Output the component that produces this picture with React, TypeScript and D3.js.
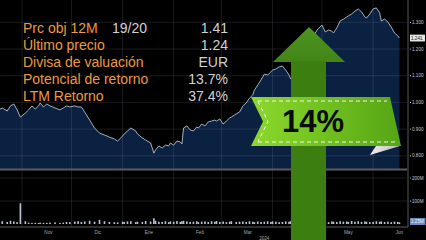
import React from "react";
import * as d3 from "d3";

// ---- data ----
const dates = [
  "2023-10-18","2023-10-20","2023-10-23","2023-10-25","2023-10-27","2023-10-29","2023-10-31","2023-11-03","2023-11-05","2023-11-07",
  "2023-11-09","2023-11-11","2023-11-12","2023-11-14","2023-11-16","2023-11-18","2023-11-21","2023-11-24","2023-11-26","2023-11-28",
  "2023-11-30","2023-12-03","2023-12-05","2023-12-07","2023-12-09","2023-12-12","2023-12-15","2023-12-18","2023-12-21","2023-12-24",
  "2023-12-27","2023-12-29","2024-01-01","2024-01-02","2024-01-04","2024-01-06","2024-01-09","2024-01-10","2024-01-13","2024-01-15",
  "2024-01-18","2024-01-20","2024-01-21","2024-01-23","2024-01-25","2024-01-27","2024-01-29","2024-01-30","2024-02-01","2024-02-03",
  "2024-02-05","2024-02-06","2024-02-07","2024-02-09","2024-02-11","2024-02-13","2024-02-15","2024-02-16","2024-02-18","2024-02-20",
  "2024-02-22","2024-02-24","2024-02-26","2024-02-27","2024-02-29","2024-03-02","2024-03-04","2024-03-06","2024-03-07","2024-03-10",
  "2024-03-12","2024-03-14","2024-03-16","2024-03-18","2024-03-20","2024-03-21","2024-03-23","2024-03-25","2024-03-27","2024-03-29",
  "2024-03-31","2024-04-01","2024-04-03","2024-04-05","2024-04-07","2024-04-09","2024-04-11","2024-04-12","2024-04-16","2024-04-19",
  "2024-04-22","2024-04-25","2024-04-28","2024-05-01","2024-05-03","2024-05-05","2024-05-07","2024-05-08","2024-05-10","2024-05-12",
  "2024-05-14","2024-05-16","2024-05-17","2024-05-19","2024-05-21","2024-05-23","2024-05-25","2024-05-27","2024-05-28","2024-05-30",
  "2024-06-01","2024-06-03","2024-06-05","2024-06-06","2024-06-08","2024-06-10","2024-06-12","2024-06-14","2024-06-16","2024-06-17",
];
const prices = [
  0.972,0.979,0.968,0.987,0.994,0.972,0.945,0.960,0.972,0.987,
  0.975,0.987,0.998,0.983,0.994,0.987,0.979,0.972,0.979,0.987,
  0.983,0.987,0.983,0.983,0.964,0.934,0.904,0.885,0.878,0.870,
  0.863,0.855,0.874,0.882,0.893,0.904,0.893,0.882,0.867,0.859,
  0.848,0.810,0.822,0.837,0.829,0.840,0.837,0.848,0.840,0.855,
  0.852,0.844,0.904,0.912,0.897,0.893,0.908,0.904,0.919,0.912,
  0.927,0.930,0.934,0.930,0.938,0.919,0.930,0.942,0.945,0.957,
  0.964,0.987,0.998,1.016,1.028,1.046,1.065,1.084,1.106,1.103,
  1.114,1.121,1.125,1.133,1.136,1.121,1.103,1.088,1.121,1.166,
  1.204,1.241,1.271,1.290,1.264,1.271,1.267,1.260,1.279,1.305,
  1.312,1.320,1.324,1.331,1.342,1.350,1.339,1.320,1.316,1.331,
  1.350,1.354,1.335,1.305,1.312,1.301,1.282,1.260,1.249,1.241,
];
const volumes = [
  10,12,9,14,11,8,90,12,6,5,
  5,4,6,5,5,6,7,5,6,9,
  8,10,12,9,11,14,10,18,12,9,
  8,7,10,9,11,12,8,10,9,13,
  11,25,14,10,9,12,8,11,10,13,
  9,12,14,11,9,10,12,8,10,11,
  9,12,10,13,9,11,8,10,12,9,
  10,11,9,12,10,8,11,9,10,12,
  9,11,10,8,9,11,10,12,9,10,
  11,13,10,9,12,8,11,10,9,12,
  10,11,9,13,10,12,9,11,10,8,
  9,12,10,11,9,10,8,10,9,7,
];
const priceTicks = [0.8, 0.9, 1.0, 1.1, 1.2, 1.3];
const volumeTicks = [100, 200];
const monthStarts = ["2023-11-01","2023-12-01","2024-01-01","2024-02-01","2024-03-01","2024-04-01","2024-05-01","2024-06-01"];
const monthLabelDates = ["2023-11-17","2023-12-17","2024-01-17","2024-02-17","2024-03-17","2024-04-17","2024-05-17","2024-06-17"];
const monthLabels = ["Nov","Dic","Ene","Feb","Mar","Abr","May","Jun"];
const yearLabelDate = "2024-03-27";
const yearLabel = "2024";
const lastPriceLabel = "1.241";
const lastVolumeLabel = "1.25M";

const infoLabels = ["Prc obj 12M","Último precio","Divisa de valuación","Potencial de retorno","LTM Retorno"];
const infoMid = ["19/20","","","",""];
const infoValues = ["1.41","1.24","EUR","13.7%","37.4%"];
const bannerText = "14%";

// ---- layout ----
const W = 426, H = 240;
const PLOT_R = 407;
const PRICE_TOP = 0, PRICE_BOT = 169;
const VOL_BOT = 227;

const parse = d3.timeParse("%Y-%m-%d");

export default function App() {
  const x = d3.scaleTime()
    .domain([new Date(2023, 9, 18, 15), new Date(2024, 5, 21, 14)])
    .range([0, PLOT_R]);
  const y = d3.scaleLinear().domain([0.8, 1.3]).range([155.8, 22.3]);
  const yv = d3.scaleLinear().domain([0, 100]).range([224, 201]);

  const pts = dates.map((d, i) => ({ d: parse(d)!, p: prices[i], v: volumes[i] }));
  const area = d3.area<any>().x(o => x(o.d)).y0(PRICE_BOT).y1(o => y(o.p));
  const line = d3.line<any>().x(o => x(o.d)).y(o => y(o.p));

  const font = "'Liberation Sans', Arial, sans-serif";
  const gridColor = "rgba(150,160,175,0.28)";

  return (
    <svg width={W} height={H} style={{ position: "fixed", left: 0, top: 0, display: "block", background: "#000" }}>
      <defs>
        <linearGradient id="ban" x1="0" x2="1" y1="0" y2="0">
          <stop offset="0" stopColor="#8cd82c" />
          <stop offset="0.5" stopColor="#70c020" />
          <stop offset="1" stopColor="#55a414" />
        </linearGradient>
        <linearGradient id="head" x1="0" x2="0" y1="0" y2="1">
          <stop offset="0" stopColor="#4f9522" />
          <stop offset="1" stopColor="#418516" />
        </linearGradient>
        <linearGradient id="fold" x1="0" x2="1" y1="0" y2="0">
          <stop offset="0" stopColor="#f0f0f0" />
          <stop offset="1" stopColor="#b8b8b8" />
        </linearGradient>
      </defs>
      <rect x={0} y={0} width={W} height={H} fill="#000" />

      {/* price area */}
      <path d={area(pts) || ""} fill="#0b2142" />

      {/* grid */}
      {priceTicks.map(t => (
        <line key={"pg" + t} x1={0} x2={PLOT_R} y1={y(t)} y2={y(t)} stroke={gridColor} strokeWidth={0.6} />
      ))}
      {volumeTicks.map(t => (
        <line key={"vg" + t} x1={0} x2={PLOT_R} y1={yv(t)} y2={yv(t)} stroke={gridColor} strokeWidth={0.6} />
      ))}
      {monthStarts.map(m => (
        <line key={"mg" + m} x1={x(parse(m)!)} x2={x(parse(m)!)} y1={0} y2={VOL_BOT} stroke={gridColor} strokeWidth={0.6} />
      ))}

      <path d={line(pts) || ""} fill="none" stroke="#b4c0d4" strokeWidth={0.9} />

      {/* separators and axes */}
      <line x1={0} x2={PLOT_R} y1={PRICE_BOT + 0.5} y2={PRICE_BOT + 0.5} stroke="#5c5c5c" strokeWidth={2} />
      <line x1={0} x2={PLOT_R + 1} y1={VOL_BOT} y2={VOL_BOT} stroke="#5a5a5a" strokeWidth={1} />
      <line x1={PLOT_R + 1} x2={PLOT_R + 1} y1={0} y2={VOL_BOT} stroke="#707070" strokeWidth={0.8} />

      {/* volume bars */}
      {pts.map((o, i) => (
        <rect key={"v" + i} x={x(o.d) - 0.8} y={yv(o.v)} width={1.6} height={yv(0) - yv(o.v)} fill="#b9c4d6" />
      ))}

      {/* right axis labels */}
      {priceTicks.map(t => (
        <g key={"pl" + t}>
          <circle cx={410.5} cy={y(t)} r={0.6} fill="#ccc" />
          <text x={412} y={y(t) + 1.6} fontSize={4.6} fill="#c8c8c8" fontFamily={font}>{d3.format(".3f")(t)}</text>
        </g>
      ))}
      <rect x={410} y={y(prices[prices.length - 1]) - 3.4} width={15} height={6.8} fill="#e6e6e6" />
      <text x={411} y={y(prices[prices.length - 1]) + 1.6} fontSize={4.6} fill="#111" fontFamily={font}>{lastPriceLabel}</text>
      {volumeTicks.map(t => (
        <g key={"vl" + t}>
          <circle cx={410.5} cy={yv(t)} r={0.6} fill="#ccc" />
          <text x={412} y={yv(t) + 1.6} fontSize={4.6} fill="#c8c8c8" fontFamily={font}>{t + "M"}</text>
        </g>
      ))}
      <rect x={410} y={218} width={15.5} height={7} fill="#6e8ec0" />
      <text x={411} y={223.2} fontSize={4.6} fill="#eef" fontFamily={font}>{lastVolumeLabel}</text>

      {/* month labels */}
      {monthLabelDates.map((m, i) => (
        <text key={"ml" + m} x={x(parse(m)!)} y={234} fontSize={4.6} fill="#a8a8a8" textAnchor="middle" fontFamily={font}>{monthLabels[i]}</text>
      ))}
      <text x={x(parse(yearLabelDate)!)} y={239.5} fontSize={4.6} fill="#a8a8a8" textAnchor="middle" fontFamily={font}>{yearLabel}</text>

      {/* info text */}
      {infoLabels.map((l, i) => (
        <g key={"il" + i}>
          <text x={23} y={33.3 + i * 16.8} fontSize={14} fill="#ec9a40" fontFamily={font}>{l}</text>
          {infoMid[i] && <text x={112} y={33.3 + i * 16.8} fontSize={14} fill="#d2d2d2" fontFamily={font}>{infoMid[i]}</text>}
          <text x={228} y={33.3 + i * 16.8} fontSize={14} fill="#d2d2d2" textAnchor="end" fontFamily={font}>{infoValues[i]}</text>
        </g>
      ))}

      {/* arrow */}
      <polygon points="309,27 345,62 273,62" fill="url(#head)" />
      <rect x={291} y={61.5} width={35} height={180} fill="#3c7e0f" />

      {/* fold */}
      <polygon points="370,155 400,146 376,146" fill="url(#fold)" />
      {/* banner */}
      <polygon points="251,97 390,97 401,146 251,146 263,121.5" fill="url(#ban)" />
      <polyline points="258,101 387,101" fill="none" stroke="#f4f4f4" strokeWidth={1} strokeDasharray="4 3" />
      <polyline points="258,101.5 268,121.5 258,141.5" fill="none" stroke="#f4f4f4" strokeWidth={1} strokeDasharray="4 3" />
      <polyline points="258,142 397,142" fill="none" stroke="#f4f4f4" strokeWidth={1} strokeDasharray="4 3" />
      <text x={313} y={132} fontSize={31} fontWeight="bold" fill="#0a0a0a" textAnchor="middle" fontFamily={font}>{bannerText}</text>
    </svg>
  );
}
